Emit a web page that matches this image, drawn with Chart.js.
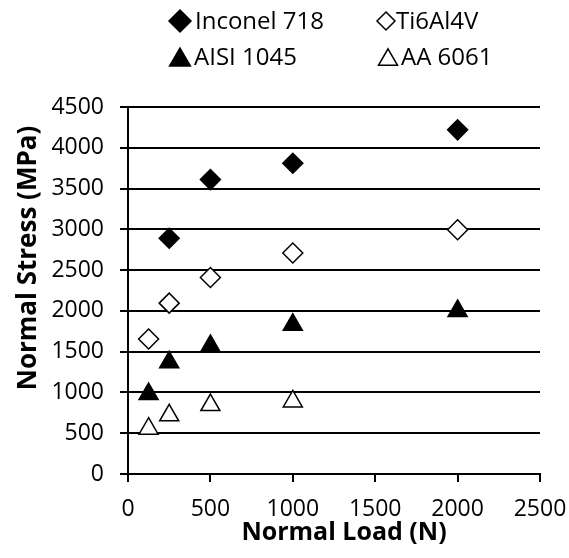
<!DOCTYPE html>
<html>
<head>
<meta charset="utf-8">
<script src="https://cdn.jsdelivr.net/npm/chart.js"></script>
<style>
  html, body { margin: 0; padding: 0; background: #fff; }
  #wrap { width: 569px; height: 558px; }
</style>
</head>
<body>
<div id="wrap"><canvas id="chart"></canvas></div>
<script>
// data
const seriesNames = ['Inconel 718', 'Ti6Al4V', 'AISI 1045', 'AA 6061'];

const inconelLoad = [250, 500, 1000, 2000];
const inconelStress = [2890, 3610, 3810, 4220];

const tiLoad = [125, 250, 500, 1000, 2000];
const tiStress = [1655, 2095, 2410, 2710, 2995];

const aisiLoad = [125, 250, 500, 1000, 2000];
const aisiStress = [980, 1370, 1570, 1830, 2000];

const aaLoad = [125, 250, 500, 1000];
const aaStress = [555, 720, 845, 890];

const xTicks = [0, 500, 1000, 1500, 2000, 2500];
const yTicks = [0, 500, 1000, 1500, 2000, 2500, 3000, 3500, 4000, 4500];

const xTitle = 'Normal Load (N)';
const yTitle = 'Normal Stress (MPa)';

const FONT = "'Open Sans', sans-serif";

const toPoints = (xs, ys) => xs.map((x, i) => ({ x: x, y: ys[i] }));

// legend sits in two rows above the plot: marker centre, marker size, text start
const legendSpots = [
  { x: 180, y: 21, r: 11, tx: 195 }, { x: 386, y: 21, r: 9, tx: 396 },
  { x: 180, y: 57, r: 12, tx: 194 }, { x: 388, y: 57, r: 11, tx: 401 }
];

function drawMarker(ctx, style, r, x, y) {
  ctx.beginPath();
  if (style === 'rectRot') {
    ctx.moveTo(x, y - r);
    ctx.lineTo(x + r, y);
    ctx.lineTo(x, y + r);
    ctx.lineTo(x - r, y);
  } else {
    const c = Math.cos(Math.PI / 6) * r;
    y += r / 4;
    ctx.moveTo(x, y - r);
    ctx.lineTo(x + c, y + r / 2);
    ctx.lineTo(x - c, y + r / 2);
  }
  ctx.closePath();
  ctx.fill();
  ctx.stroke();
}

const topLegend = {
  id: 'topLegend',
  afterDraw(chart) {
    const ctx = chart.ctx;
    chart.data.datasets.forEach((ds, i) => {
      const p = legendSpots[i];
      ctx.save();
      ctx.fillStyle = ds.pointBackgroundColor;
      ctx.strokeStyle = ds.pointBorderColor;
      ctx.lineWidth = ds.pointBorderWidth;
      drawMarker(ctx, ds.pointStyle, p.r, p.x, p.y);
      ctx.fillStyle = '#000';
      ctx.font = '24px ' + FONT;
      ctx.textBaseline = 'middle';
      ctx.fillText(ds.label, p.tx, p.y + 1);
      ctx.restore();
    });
  }
};

// axis titles sit a little off centre in the original, so they are placed here
const axisTitles = {
  id: 'axisTitles',
  afterDraw(chart) {
    const ctx = chart.ctx;
    ctx.save();
    ctx.fillStyle = '#000';
    ctx.textAlign = 'center';
    ctx.textBaseline = 'middle';
    ctx.font = 'bold 25px ' + FONT;
    ctx.fillText(xTitle, 344, 533);
    ctx.translate(29, 258);
    ctx.rotate(-Math.PI / 2);
    ctx.font = 'bold 26px ' + FONT;
    ctx.fillText(yTitle, 0, 0);
    ctx.restore();
  }
};

function series(name, xs, ys, style, filled, r) {
  return {
    label: name,
    data: toPoints(xs, ys),
    pointStyle: style,
    pointRadius: r,
    pointHoverRadius: r,
    pointBackgroundColor: filled ? '#000' : '#fff',
    pointBorderColor: '#000',
    pointBorderWidth: 1.5,
    showLine: false
  };
}

new Chart(document.getElementById('chart'), {
  type: 'scatter',
  data: {
    datasets: [
      series(seriesNames[0], inconelLoad, inconelStress, 'rectRot', true, 10),
      series(seriesNames[1], tiLoad, tiStress, 'rectRot', false, 10),
      series(seriesNames[2], aisiLoad, aisiStress, 'triangle', true, 11),
      series(seriesNames[3], aaLoad, aaStress, 'triangle', false, 11)
    ]
  },
  options: {
    responsive: true,
    maintainAspectRatio: false,
    animation: false,
    layout: { padding: { top: 107, right: 29, left: 0, bottom: 0 } },
    plugins: { legend: { display: false }, tooltip: { enabled: false } },
    scales: {
      x: {
        type: 'linear',
        min: xTicks[0],
        max: xTicks[xTicks.length - 1],
        afterBuildTicks: s => { s.ticks = xTicks.map(v => ({ value: v })); },
        afterFit: s => { s.height = 84; s.paddingLeft = 0; s.paddingRight = 0; },
        ticks: {
          color: '#000', font: { family: FONT, size: 23 }, padding: 14, maxRotation: 0,
          callback: v => String(v)
        },
        grid: { drawOnChartArea: false, color: '#000', lineWidth: 2, tickLength: 8 },
        border: { color: '#000', width: 2 }
      },
      y: {
        type: 'linear',
        min: yTicks[0],
        max: yTicks[yTicks.length - 1],
        afterBuildTicks: s => { s.ticks = yTicks.map(v => ({ value: v })); },
        afterFit: s => { s.width = 128; },
        ticks: {
          color: '#000', font: { family: FONT, size: 23 }, padding: 16,
          callback: v => String(v)
        },
        grid: { color: '#000', lineWidth: 2, tickLength: 8 },
        border: { color: '#000', width: 2 }
      }
    }
  },
  plugins: [topLegend, axisTitles]
});
</script>
</body>
</html>
